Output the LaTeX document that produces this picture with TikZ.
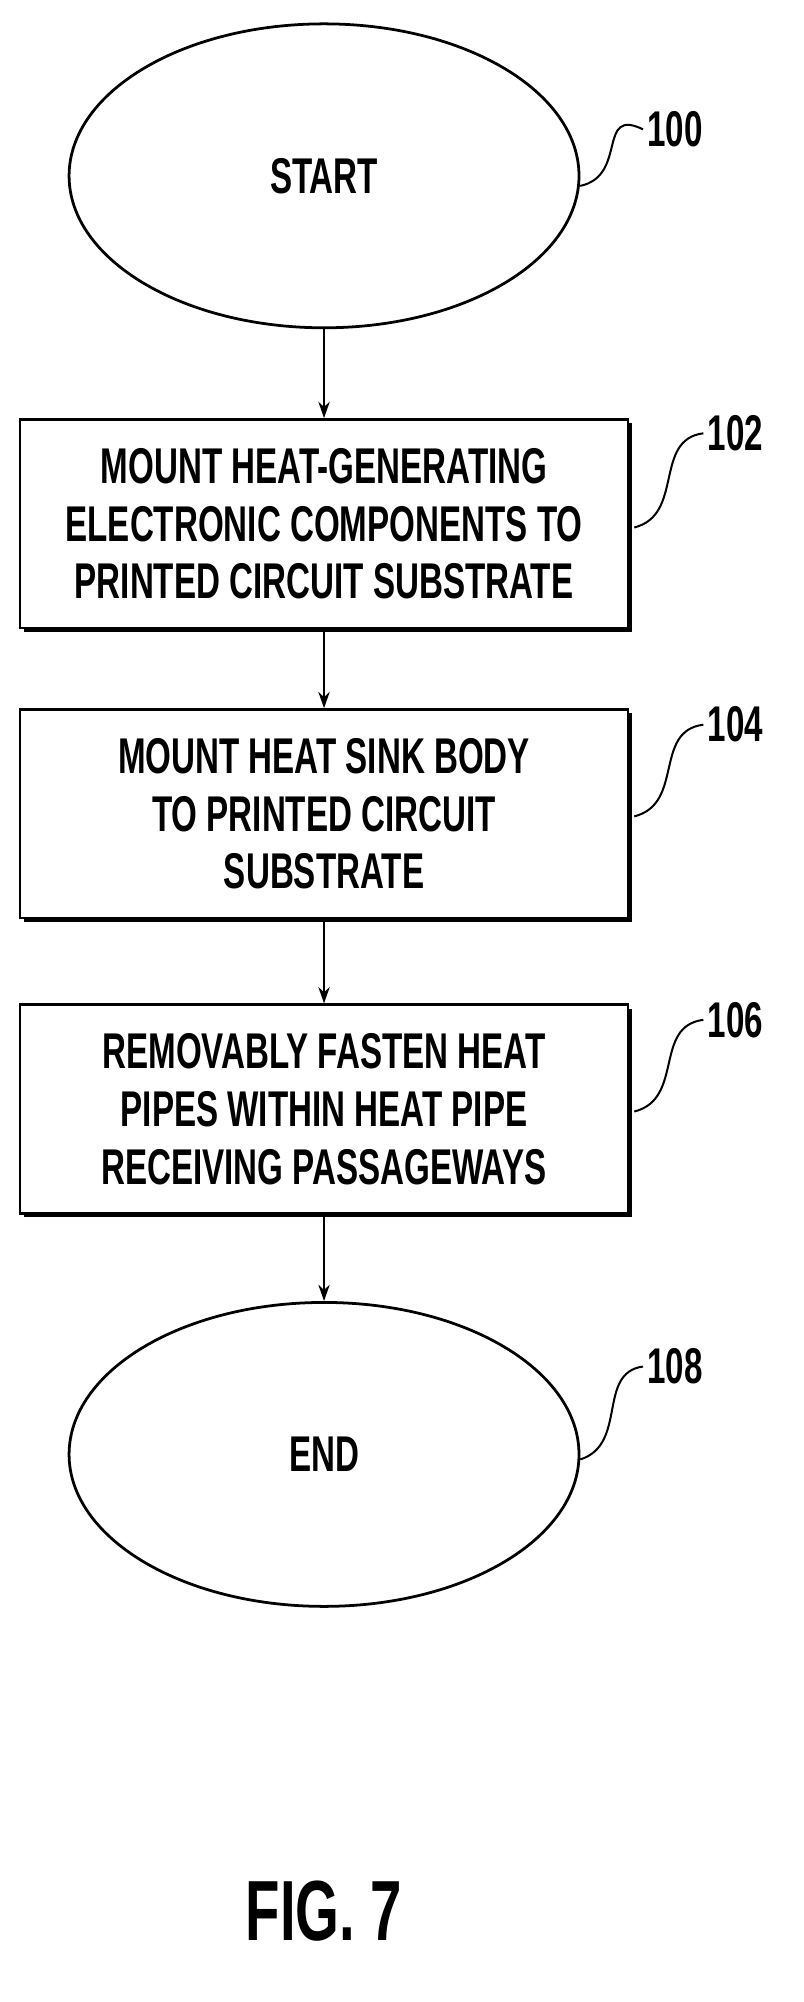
\documentclass[tikz,border=0pt]{standalone}
\usepackage{fontspec}
\setmainfont{Liberation Sans}[FakeStretch=0.66]
\usetikzlibrary{shapes.geometric,arrows.meta}
\begin{document}
\begin{tikzpicture}[x=1pt,y=-1pt,
  lbl/.style={font=\bfseries\fontsize{40}{46}\selectfont},
  term/.style={ellipse,draw,line width=2.2pt,minimum width=406pt,minimum height=242pt,lbl},
  stepbox/.style={draw,line width=2.2pt,fill=white,minimum width=484pt,minimum height=166pt,align=center,lbl,
     preaction={fill=black,transform canvas={xshift=3pt,yshift=-3pt}}},
  arr/.style={-{Stealth[length=13pt,width=9pt]},line width=1.6pt},
  lead/.style={line width=1.6pt}]
\useasboundingbox (0,0) rectangle (640,1594);
\node[term] (s) at (258,140) {START};
\node[stepbox] (b1) at (258,417) {MOUNT HEAT-GENERATING\\ELECTRONIC COMPONENTS TO\\PRINTED CIRCUIT SUBSTRATE};
\node[stepbox] (b2) at (258,648) {MOUNT HEAT SINK BODY\\TO PRINTED CIRCUIT\\SUBSTRATE};
\node[stepbox] (b3) at (258,883) {REMOVABLY FASTEN HEAT\\PIPES WITHIN HEAT PIPE\\RECEIVING PASSAGEWAYS};
\node[term] (e) at (258,1158) {END};
\node[font=\bfseries\fontsize{68}{74}\selectfont] (fig) at (258,1522) {FIG. 7};
\draw[arr] (s) -- (b1);
\draw[arr] (b1) -- (b2);
\draw[arr] (b2) -- (b3);
\draw[arr] (b3) -- (e);
\node[lbl,anchor=west] (n100) at (512,103) {100};
\node[lbl,anchor=west] (n102) at (560,345) {102};
\node[lbl,anchor=west] (n104) at (560,577) {104};
\node[lbl,anchor=west] (n106) at (560,812) {106};
\node[lbl,anchor=west] (n108) at (512,1088) {108};
\coordinate (c1) at (462,148);
\draw[lead] (c1) .. controls (500,140) and (475,85) .. (n100.west);
\coordinate (c2) at (505,420);
\draw[lead] (c2) .. controls (545,410) and (520,350) .. (n102.west);
\coordinate (c3) at (505,650);
\draw[lead] (c3) .. controls (545,640) and (520,582) .. (n104.west);
\coordinate (c4) at (505,885);
\draw[lead] (c4) .. controls (545,875) and (520,817) .. (n106.west);
\coordinate (c5) at (462,1162);
\draw[lead] (c5) .. controls (500,1150) and (475,1093) .. (n108.west);
\end{tikzpicture}
\end{document}
